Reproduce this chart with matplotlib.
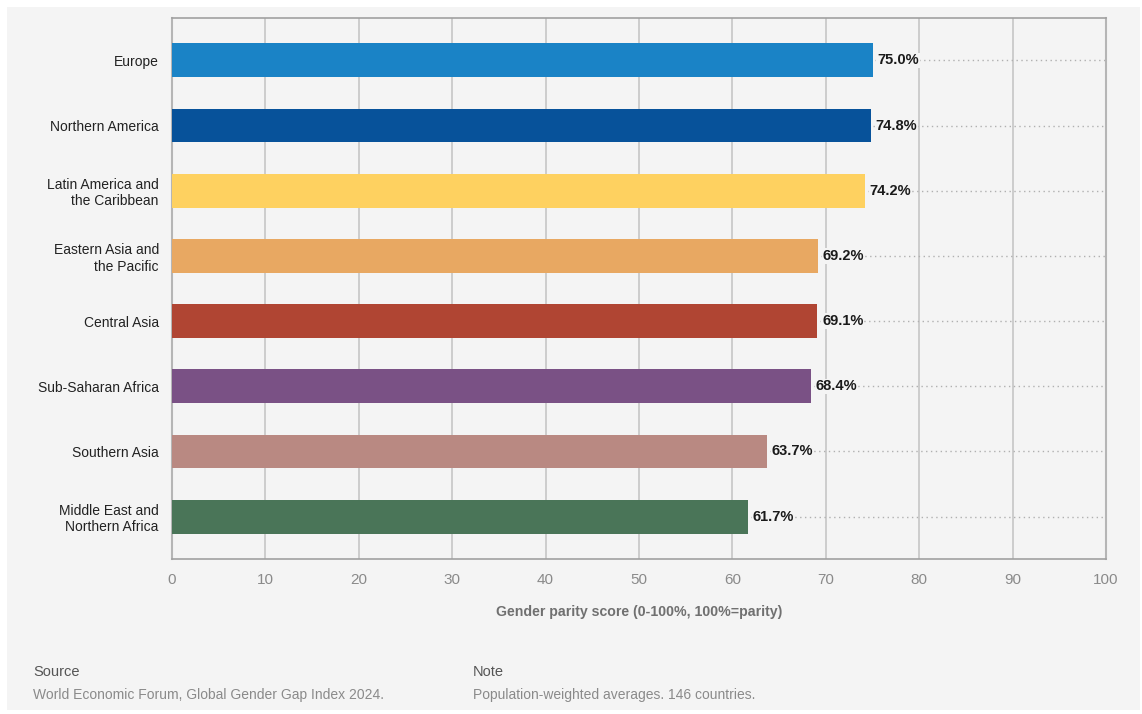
import matplotlib
matplotlib.use('Agg')
import matplotlib.pyplot as plt
from matplotlib.patches import Rectangle
from matplotlib import font_manager

# data
regions = ['Europe', 'Northern America', 'Latin America and\nthe Caribbean',
           'Eastern Asia and\nthe Pacific', 'Central Asia', 'Sub-Saharan Africa',
           'Southern Asia', 'Middle East and\nNorthern Africa']
scores = [75.0, 74.8, 74.2, 69.2, 69.1, 68.4, 63.7, 61.7]
colors = ['#1a83c6', '#07529a', '#fed160', '#e8a862',
          '#b04533', '#7a5185', '#b98982', '#4a7558']
x_ticks = [0, 10, 20, 30, 40, 50, 60, 70, 80, 90, 100]

names = {f.name for f in font_manager.fontManager.ttflist}
fams = [f for f in ['Liberation Sans Narrow', 'Liberation Sans'] if f in names]
plt.rcParams['font.family'] = fams + ['DejaVu Sans']

bg = '#f4f4f4'
fig = plt.figure(figsize=(11.42, 7.14), dpi=100)
fig.patch.set_facecolor('white')
fig.add_artist(Rectangle((7 / 1142, 4 / 714), 1133 / 1142, 703 / 714,
                         transform=fig.transFigure, facecolor=bg,
                         edgecolor='none', zorder=-10))

ax = fig.add_axes([172 / 1142, 1 - 559 / 714, 934 / 1142, 541 / 714])
ax.set_zorder(1)
ax.set_facecolor(bg)

ypos = list(range(len(regions)))
ax.barh(ypos, scores, height=0.52, color=colors, zorder=3)

for y, v in zip(ypos, scores):
    ax.plot([v + 0.3, 100], [y, y], color='#b0b0b0', linestyle=(0, (1, 2.5)),
            linewidth=1, zorder=2)
    ax.text(v + 0.5, y, f'{v:.1f}%', va='center', ha='left', fontsize=10.5,
            fontweight='bold', color='#1a1a1a', zorder=4,
            bbox=dict(facecolor=bg, edgecolor='none', pad=0.5))

ax.set_xlim(0, 100)
ax.set_ylim(len(regions) - 0.35, -0.65)
ax.set_xticks(x_ticks)
ax.set_xticklabels([str(t) for t in x_ticks], fontsize=11, color='#8a8a8a')
ax.set_yticks(ypos)
ax.set_yticklabels(regions, fontsize=10, color='#222222')
ax.tick_params(axis='both', length=0)
ax.tick_params(axis='x', pad=10)
ax.tick_params(axis='y', pad=9.5)
ax.xaxis.grid(True, color='#c6c6c6', linewidth=1.2, zorder=1)
ax.set_axisbelow(True)

for side in ['left', 'right']:
    ax.spines[side].set_color('#b5b5b5')
    ax.spines[side].set_linewidth(1.5)
for side in ['top', 'bottom']:
    ax.spines[side].set_color('#a0a0a0')
    ax.spines[side].set_linestyle((0, (1, 1)))
    ax.spines[side].set_linewidth(1.2)

ax.set_xlabel('Gender parity score (0-100%, 100%=parity)', fontsize=10.2,
              fontweight='bold', color='#707070', labelpad=13)

fig.text(33 / 1142, 1 - 672 / 714, 'Source', fontsize=10.5, color='#555555', va='center')
fig.text(33 / 1142, 1 - 695 / 714, 'World Economic Forum, Global Gender Gap Index 2024.',
         fontsize=10, color='#8a8a8a', va='center')
fig.text(473 / 1142, 1 - 672 / 714, 'Note', fontsize=10.5, color='#555555', va='center')
fig.text(473 / 1142, 1 - 695 / 714, 'Population-weighted averages. 146 countries.',
         fontsize=10, color='#8a8a8a', va='center')

fig.savefig('out.png', dpi=100, facecolor=fig.get_facecolor())
